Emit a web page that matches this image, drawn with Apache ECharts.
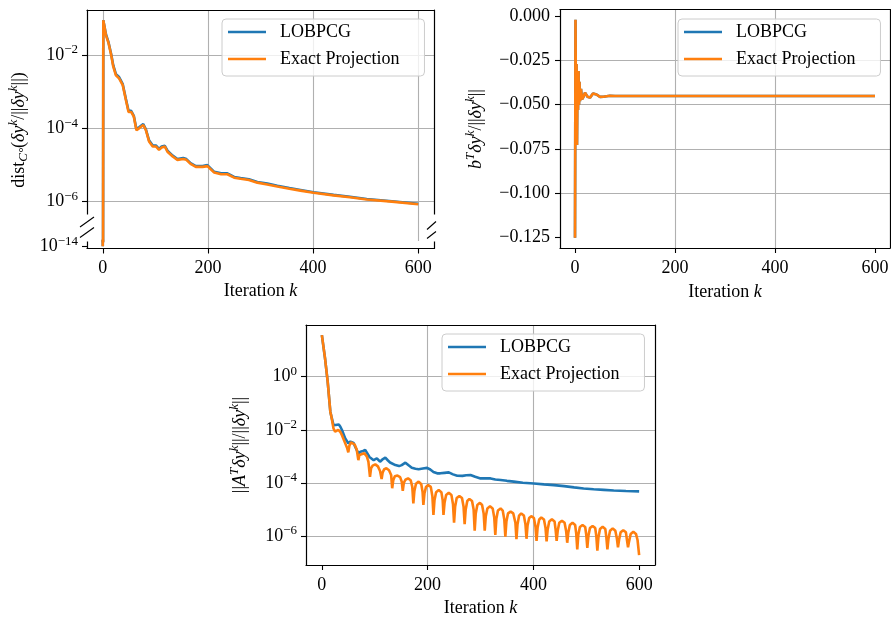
<!DOCTYPE html>
<html><head><meta charset="utf-8">
<script src="https://cdn.jsdelivr.net/npm/echarts@6/dist/echarts.min.js"></script>
<style>html,body{margin:0;padding:0;background:#fff}#c{width:891px;height:619px}</style>
</head><body><div id="c"></div>
<script>
const FONT = '"Liberation Serif", "DejaVu Serif", serif';
const BLUE = '#1f77b4', ORANGE = '#ff7f0e';
const seriesNames = ['LOBPCG', 'Exact Projection'];
const xTicks = [0, 200, 400, 600];
const objTicks = [-0.125, -0.1, -0.075, -0.05, -0.025, 0];

// top-left: dist to polar cone
const distK = [0,1,6,11,16,19,20,25,31,38,44,49,54,59,64,69,77,82,88,95,101,107,112,118,123,133,142,153,159,167,177,190,199,212,225,237,250,262,278,294,313,332,355,376,401,439,470,502,550,600];
const distExact = [1e-14,8.9e-2,3.5e-2,2.1e-2,1.0e-2,1.12e-2,4.8e-3,2.8e-3,2.3e-3,1.5e-3,5.9e-4,2.8e-4,2.8e-4,2.1e-4,8.9e-5,1.0e-4,1.23e-4,8.9e-5,4.4e-5,3.2e-5,3.2e-5,2.6e-5,3.0e-5,3.2e-5,2.3e-5,1.7e-5,1.38e-5,1.45e-5,1.38e-5,1.07e-5,8.9e-6,8.9e-6,9.3e-6,6.2e-6,5.6e-6,5.6e-6,4.5e-6,4.2e-6,3.9e-6,3.3e-6,2.95e-6,2.6e-6,2.25e-6,2.0e-6,1.74e-6,1.48e-6,1.32e-6,1.15e-6,1.0e-6,8.5e-7];
const distLobpcg = [1e-14,8.9e-2,3.7e-2,2.2e-2,1.05e-2,1.1e-2,5.2e-3,3.0e-3,2.5e-3,1.6e-3,6.3e-4,3.0e-4,3.0e-4,2.2e-4,9.5e-5,1.07e-4,1.3e-4,9.4e-5,4.7e-5,3.4e-5,3.4e-5,2.75e-5,3.2e-5,3.35e-5,2.45e-5,1.8e-5,1.45e-5,1.55e-5,1.45e-5,1.12e-5,9.3e-6,9.4e-6,9.9e-6,6.5e-6,5.9e-6,5.9e-6,4.7e-6,4.4e-6,4.1e-6,3.45e-6,3.1e-6,2.7e-6,2.35e-6,2.08e-6,1.8e-6,1.53e-6,1.36e-6,1.18e-6,1.03e-6,8.8e-7];

// top-right: b^T dy / ||dy||
const objK = [0,1,2,3,4,5,6,7,8,9,10,12,14,17,20,25,30,36,43,50,57,63,70,80,100,600];
const objExact = [-0.125,-0.0021,-0.060,-0.027,-0.0727,-0.034,-0.053,-0.031,-0.050,-0.037,-0.048,-0.041,-0.047,-0.0455,-0.0432,-0.0455,-0.046,-0.0437,-0.0442,-0.0456,-0.0455,-0.0452,-0.0449,-0.0451,-0.0451,-0.0451];
const objLobpcg = [-0.125,-0.0021,-0.060,-0.027,-0.0727,-0.034,-0.053,-0.031,-0.050,-0.037,-0.048,-0.041,-0.047,-0.0455,-0.0432,-0.0455,-0.046,-0.0437,-0.0442,-0.0456,-0.0455,-0.0452,-0.0449,-0.0451,-0.0451,-0.0451];

// bottom: ||A^T dy|| / ||dy||
const resLobpcgK = [0,6,11,16,18,22, 26,29,32,35,38, 44,50,54,57,60,63, 69,73,78,82,86,90, 98,104,110,114,120,125,129, 139,146,151,158,164,170, 177,183,191,199,205,211, 218,224,232,240,248,256, 266,273,281,290,300,310, 319,328,338,350,363,380, 401,420,439,458,477,495, 514,533,552,575,600];
const resLobpcg = [37,4.9,0.65,0.048,0.032,0.015, 0.0151,0.0165,0.016,0.013,9.8e-3, 4.8e-3,3.1e-3,3.6e-3,3.8e-3,3.2e-3,2.3e-3, 1.3e-3,1.5e-3,1.6e-3,1.74e-3,1.3e-3,9.5e-4, 7.2e-4,8.5e-4,6.3e-4,7.5e-4,8.9e-4,7.0e-4,5.9e-4, 4.7e-4,4.3e-4,4.7e-4,5.8e-4,4.6e-4,3.7e-4, 3.4e-4,3.3e-4,3.5e-4,3.7e-4,3.2e-4,2.6e-4, 2.3e-4,2.3e-4,2.4e-4,2.5e-4,2.1e-4,1.86e-4, 1.85e-4,1.95e-4,2.0e-4,1.7e-4,1.48e-4,1.5e-4, 1.48e-4,1.35e-4,1.29e-4,1.2e-4,1.12e-4,1.02e-4, 9.5e-5,8.8e-5,8.3e-5,7.6e-5,6.8e-5,6.2e-5, 5.8e-5,5.5e-5,5.2e-5,5.0e-5,4.8e-5];
const resExactK = [
  0,6,11,16,18,22,25,28,31,35,38,44,48,
  50,52,55,58,62,66,
  69,71,74,80,85,88,
  91,93,96,101,106,110,
  113,115,118,122,127,131,
  133,135,138,143,148,151,
  153,155,158,163,168,171,
  173,175,178,183,188,190.5,
  192,194,197,201,206,209,
  211,213,216,221,226,228.5,
  230,232,235,240,245,248,
  250,252,255,260,265,268,
  270,272,275,279,284,287,
  289,291,294,299,303,306,
  308,310,313,318,323,326,
  328,330,333,338,342,345,
  347,349,352,357,362,366,
  368,370,373,377,382,385,
  387,389,392,396,401,404,
  406,408,411,415,420,423,
  425,427,430,435,440,442,
  444,446,449,454,459,462,
  464,466,469,474,479,481,
  483,485,488,493,498,500,
  502,504,507,512,517,519,
  521,523,526,531,536,538,
  540,542,545,550,555,558,
  560,562,565,570,575,577,
  579,581,584,589,594,597,
  600];
const resExact = [
  37,4.9,0.65,0.048,0.0316,0.0112,8.5e-3,8.9e-3,1.0e-2,8.3e-3,6.3e-3,3.16e-3,2.0e-3,
  1.41e-3,2.5e-3,3.4e-3,3.55e-3,2.8e-3,1.78e-3,
  7.2e-4,1.12e-3,1.26e-3,1.32e-3,1.0e-3,6.3e-4,
  1.7e-4,3.55e-4,4.5e-4,5.0e-4,4.2e-4,2.8e-4,
  1.41e-4,2.5e-4,3.3e-4,3.55e-4,3.0e-4,2.0e-4,
  6.3e-5,1.26e-4,1.78e-4,1.9e-4,1.66e-4,1.12e-4,
  5.0e-5,1.0e-4,1.32e-4,1.48e-4,1.26e-4,7.1e-5,
  1.7e-5,5.0e-5,9.3e-5,1.12e-4,8.9e-5,4.5e-5,
  1.48e-5,4.0e-5,7.1e-5,8.3e-5,7.1e-5,3.16e-5,
  6.3e-6,2.24e-5,4.5e-5,5.4e-5,4.5e-5,2.24e-5,
  6.3e-6,1.78e-5,3.55e-5,4.3e-5,3.55e-5,1.58e-5,
  3.16e-6,1.26e-5,2.7e-5,3.2e-5,2.7e-5,1.26e-5,
  2.8e-6,1.0e-5,2.1e-5,2.5e-5,2.1e-5,1.0e-5,
  1.58e-6,7.1e-6,1.48e-5,1.78e-5,1.48e-5,7.1e-6,
  1.58e-6,5.6e-6,1.1e-5,1.32e-5,1.1e-5,5.0e-6,
  1.1e-6,4.5e-6,9.1e-6,1.1e-5,9.1e-6,4.2e-6,
  9.5e-7,3.55e-6,7.1e-6,8.3e-6,7.1e-6,3.16e-6,
  7.6e-7,2.8e-6,5.9e-6,7.1e-6,5.9e-6,2.8e-6,
  7.9e-7,2.5e-6,4.8e-6,5.6e-6,4.8e-6,2.24e-6,
  6.6e-7,2.1e-6,4.2e-6,5.0e-6,4.2e-6,2.0e-6,
  6.3e-7,1.78e-6,3.55e-6,4.3e-6,3.55e-6,1.78e-6,
  6.6e-7,1.58e-6,3.16e-6,3.8e-6,3.16e-6,1.51e-6,
  5.6e-7,1.32e-6,2.6e-6,3.16e-6,2.6e-6,1.26e-6,
  3.16e-7,1.12e-6,2.2e-6,2.6e-6,2.2e-6,1.12e-6,
  3.55e-7,1.0e-6,2.0e-6,2.4e-6,2.0e-6,1.0e-6,
  2.8e-7,8.9e-7,1.86e-6,2.24e-6,1.86e-6,8.9e-7,
  3.16e-7,7.9e-7,1.58e-6,1.95e-6,1.58e-6,7.9e-7,
  3.8e-7,7.1e-7,1.38e-6,1.66e-6,1.38e-6,7.1e-7,
  3.8e-7,6.3e-7,1.2e-6,1.45e-6,1.2e-6,7.1e-7,
  1.9e-7];

const pairs = (ks, vs) => ks.map((k, i) => [k, vs[i]]);

const labRich = {
  b: {fontFamily: FONT, fontSize: 18, lineHeight: 22, color: '#000'},
  e: {fontFamily: FONT, fontSize: 13, lineHeight: 12, padding: [0, 0, 10, 0], color: '#000'}
};
function sciLabel(v) {
  const e = Math.round(Math.log10(v));
  return '{b|10}{e|' + (e < 0 ? '\u2212' : '') + Math.abs(e) + '}';
}
function linLabel(v) {
  return (v < -1e-12 ? '\u2212' : '') + Math.abs(v).toFixed(3);
}
const spineLine = {show: true, onZero: false, lineStyle: {color: '#000', width: 1.2}};
const tickStyle = {show: true, inside: false, length: 5, lineStyle: {color: '#000', width: 1.1}};
const gridLine = {show: true, showMinLine: false, showMaxLine: false, lineStyle: {color: '#b0b0b0', width: 1.1}};
const nameStyle = {fontFamily: FONT, fontSize: 18, color: '#000', lineHeight: 22,
  rich: {i: {fontFamily: FONT, fontSize: 18, fontStyle: 'italic', color: '#000', lineHeight: 22}}};

function spineAxis(gridIndex, position) {
  return {type: 'value', gridIndex, position, min: 0, max: 1, axisLine: spineLine,
    axisTick: {show: false}, axisLabel: {show: false}, splitLine: {show: false}};
}
function iterAxis(gridIndex, margin, gap) {
  return {type: 'value', gridIndex, position: 'bottom', min: -30, max: 630, minInterval: 200, maxInterval: 200,
    axisLine: spineLine, axisTick: Object.assign({customValues: xTicks}, tickStyle),
    axisLabel: {customValues: xTicks, margin, fontFamily: FONT, fontSize: 18, color: '#000', lineHeight: 22},
    splitLine: gridLine, name: 'Iteration {i|k}', nameLocation: 'middle', nameGap: gap,
    nameTextStyle: nameStyle, nameMoveOverlap: false};
}
function logAxis(gridIndex, min, max, split) {
  return {type: 'log', logBase: 100, gridIndex, position: 'left', min, max,
    axisLine: spineLine, axisTick: tickStyle,
    axisLabel: {formatter: sciLabel, rich: labRich, margin: 9, showMinLabel: false, showMaxLabel: false, color: '#000'},
    splitLine: split ? gridLine : {show: false}};
}
function line(name, color, xi, yi, data, z) {
  return {type: 'line', name, xAxisIndex: xi, yAxisIndex: yi, data, showSymbol: false, symbol: 'none',
    lineStyle: {color, width: 2.6}, itemStyle: {color}, clip: true, silent: true, z,
    emphasis: {disabled: true}, animation: false};
}
function legendAt(left, top) {
  return {left, top, orient: 'vertical', data: seriesNames, icon: 'rect', itemWidth: 38, itemHeight: 2.6,
    itemGap: 7, padding: [3, 25, 7, 6], backgroundColor: 'rgba(255,255,255,0.8)', borderColor: '#cccccc',
    borderWidth: 1, borderRadius: 4, selectedMode: false,
    textStyle: {fontFamily: FONT, fontSize: 18, color: '#000', lineHeight: 20, padding: [0, 0, 0, 9]}};
}
const titleRich = {
  r: {fontFamily: FONT, fontSize: 18, lineHeight: 24, fill: '#000'},
  i: {fontFamily: FONT, fontSize: 18, fontStyle: 'italic', lineHeight: 24, fill: '#000'},
  si: {fontFamily: FONT, fontSize: 13, fontStyle: 'italic', lineHeight: 14, padding: [0, 0, 10, 0], fill: '#000'},
  sb: {fontFamily: FONT, fontSize: 13, fontStyle: 'italic', lineHeight: 14, padding: [10, 0, 0, 0], fill: '#000'}
};
function yTitle(x, y, text) {
  return {type: 'text', x, y, rotation: Math.PI / 2, z: 100, silent: true,
    style: {text, rich: titleRich, fontFamily: FONT, fontSize: 18, fill: '#000', align: 'center', verticalAlign: 'middle'}};
}
function seg(x1, y1, x2, y2) {
  return {type: 'line', z: 101, silent: true, shape: {x1, y1, x2, y2}, style: {stroke: '#000', lineWidth: 1.1}};
}
function cover(x, y, w, h) {
  return {type: 'rect', z: 99, silent: true, shape: {x, y, width: w, height: h}, style: {fill: '#fff'}};
}

const option = {
  animation: false,
  textStyle: {fontFamily: FONT, color: '#000'},
  grid: [
    {left: 87, top: 10, width: 347, height: 231, outerBoundsMode: 'none', containLabel: false},
    {left: 87, top: 241, width: 347, height: 7.5, outerBoundsMode: 'none', containLabel: false},
    {left: 560, top: 9.5, width: 330, height: 238.5, outerBoundsMode: 'none', containLabel: false},
    {left: 306, top: 325, width: 349, height: 240, outerBoundsMode: 'none', containLabel: false}
  ],
  xAxis: [
    {type: 'value', gridIndex: 0, position: 'top', min: -30, max: 630, minInterval: 200, maxInterval: 200,
      axisLine: spineLine, axisTick: {show: false}, axisLabel: {show: false}, splitLine: gridLine},
    iterAxis(1, 8.5, 32),
    iterAxis(2, 9, 33),
    spineAxis(2, 'top'),
    iterAxis(3, 9, 32),
    spineAxis(3, 'top')
  ],
  yAxis: [
    logAxis(0, 8.45e-8, 0.1687, true),
    spineAxis(0, 'right'),
    logAxis(1, 7.94e-15, 1.78e-14, false),
    spineAxis(1, 'right'),
    {type: 'value', gridIndex: 2, position: 'left', min: -0.1308, max: 0.0037, minInterval: 0.025, maxInterval: 0.025,
      axisLine: spineLine, axisTick: Object.assign({customValues: objTicks}, tickStyle),
      axisLabel: {customValues: objTicks, formatter: linLabel, margin: 10, fontFamily: FONT, fontSize: 18, color: '#000'},
      splitLine: gridLine},
    spineAxis(2, 'right'),
    logAxis(3, 8.13e-8, 88.5, true),
    spineAxis(3, 'right')
  ],
  legend: [legendAt(222, 19), legendAt(678, 19), legendAt(442, 334)],
  series: [
    line('LOBPCG', BLUE, 0, 0, pairs(distK, distLobpcg), 2),
    line('Exact Projection', ORANGE, 0, 0, pairs(distK, distExact), 3),
    line('LOBPCG', BLUE, 1, 2, pairs(distK, distLobpcg), 2),
    line('Exact Projection', ORANGE, 1, 2, pairs(distK, distExact), 3),
    line('LOBPCG', BLUE, 2, 4, pairs(objK, objLobpcg), 2),
    line('Exact Projection', ORANGE, 2, 4, pairs(objK, objExact), 3),
    line('LOBPCG', BLUE, 4, 6, pairs(resLobpcgK, resLobpcg), 2),
    line('Exact Projection', ORANGE, 4, 6, pairs(resExactK, resExact), 3)
  ],
  graphic: [
    cover(80, 214.5, 12, 27), cover(429, 214.5, 10, 27),
    seg(80, 227, 94, 217), seg(80, 237.5, 94, 227.5),
    seg(427, 229.5, 436, 221.5), seg(427, 238.5, 436, 231.5),
    yTitle(19, 130, '{r|dist}{sb|C°}{r|(}{i|δy}{si|k}{r|/||}{i|δy}{si|k}{r|||)}'),
    yTitle(476, 129, '{i|b}{si|T}{i|δy}{si|k}{r|/||}{i|δy}{si|k}{r|||}'),
    yTitle(240, 445, '{r|||}{i|A}{si|T}{i|δy}{si|k}{r|||/||}{i|δy}{si|k}{r|||}')
  ]
};
const chart = echarts.init(document.getElementById('c'), null, {renderer: 'canvas'});
chart.setOption(option);
</script>
</body></html>
